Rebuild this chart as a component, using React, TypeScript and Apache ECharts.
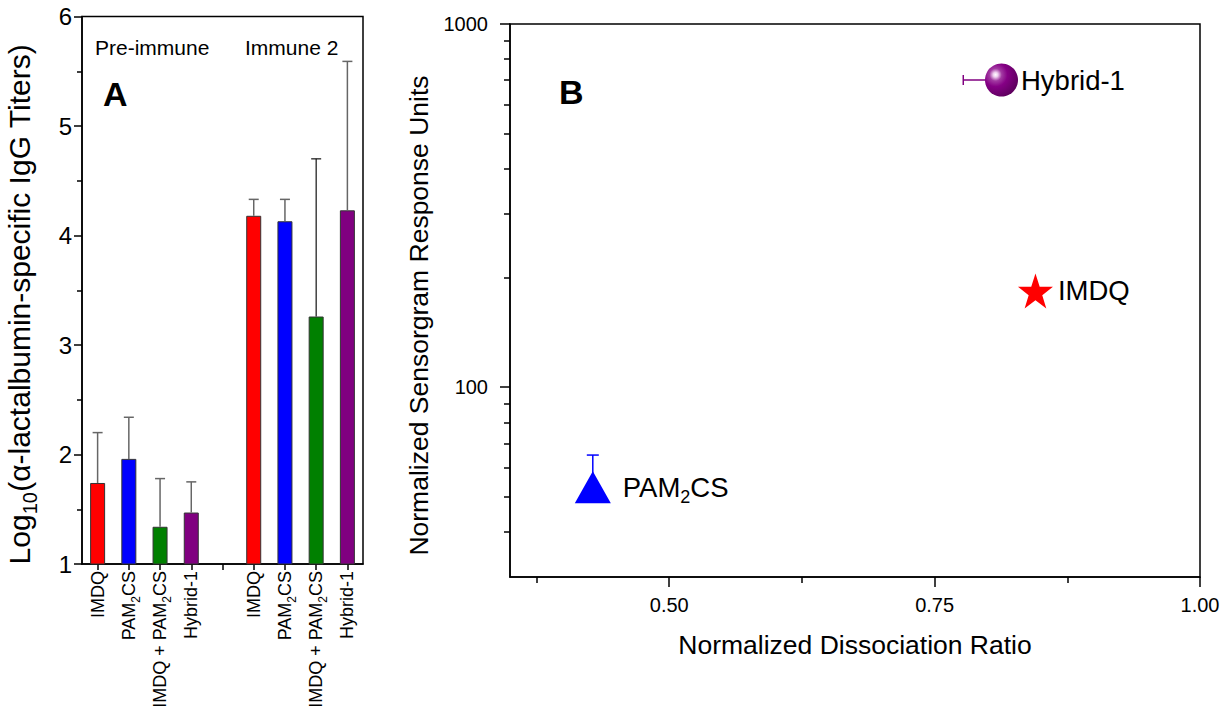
import React, { useEffect, useRef } from 'react';
import * as echarts from 'echarts';

// Panel A: log10 IgG titers per adjuvant group (pre-immune and immune 2)
const groupCategories = ['IMDQ', 'PAM2CS', 'IMDQ + PAM2CS', 'Hybrid-1', '', 'IMDQ', 'PAM2CS', 'IMDQ + PAM2CS', 'Hybrid-1'];
const titerMeans = [1.74, 1.96, 1.34, 1.47, null, 4.18, 4.13, 3.26, 4.23];
const titerErrorTops = [2.2, 2.34, 1.78, 1.75, null, 4.33, 4.33, 4.7, 5.59];
const titerMin = 1;
const titerMax = 6;

// Panel B: normalized dissociation ratio vs. normalized sensorgram response
const compounds = ['Hybrid-1', 'IMDQ', 'PAM2CS'];
const dissociationRatio = [0.813, 0.845, 0.428];
const responseUnits = [701, 184, 53];
const ratioErrorLow = [0.777, null, null];
const responseErrorHigh = [null, null, 65];
const ratioMajorTicks = [0.5, 0.75, 1.0];
const ratioMinorTicks = [0.375, 0.625, 0.875];
const responseMajorTicks = [100, 1000];
const responseMinorTicks = [40, 50, 60, 70, 80, 90, 200, 300, 400, 500, 600, 700, 800, 900];
const responseMin = 30;
const responseMax = 1000;

const FONT = '"Liberation Sans", Arial, Helvetica, sans-serif';
const barColors = ['#ff0000', '#0000ff', '#008000', '#800080', '#ffffff', '#ff0000', '#0000ff', '#008000', '#800080'];
const errorColors = ['#666666', '#666666', '#666666', '#666666', '#666666', '#666666', '#666666', '#111111', '#666666'];

const subRich = (size: number) => ({
  n: { fontSize: size, fontFamily: FONT, color: '#000', lineHeight: size + 4, verticalAlign: 'middle' },
  s: { fontSize: Math.round(size * 0.65), fontFamily: FONT, color: '#000', lineHeight: Math.round(size * 0.65), verticalAlign: 'bottom', padding: [0, 0, -Math.round(size * 0.12), 0] },
});

const withSubscript = (text: string) =>
  text.indexOf('PAM2') >= 0 ? '{n|' + text.replace('PAM2', 'PAM}{s|2}{n|') + '}' : '{n|' + text + '}';

const starPath =
  'path://M50,0 L61.8,35.1 L98.9,35.1 L69,56.9 L80.3,91.9 L50,70.3 L19.7,91.9 L31,56.9 L1.1,35.1 L38.2,35.1 Z';

export default function App() {
  const ref = useRef<HTMLDivElement>(null);

  useEffect(() => {
    if (!ref.current) return;
    const chart = echarts.init(ref.current, null, { renderer: 'svg' });

    const blackLine = { color: '#000', width: 1.5 };
    const tickLine = { color: '#000', width: 1.5 };

    const errorDataA = titerMeans
      .map((v, i) => (v == null ? null : [i, v, titerErrorTops[i]]))
      .filter((d) => d !== null);

    const sphere = new echarts.graphic.RadialGradient(0.32, 0.34, 0.72, [
      { offset: 0, color: '#ffffff' },
      { offset: 0.1, color: '#eecdee' },
      { offset: 0.26, color: '#a23aa2' },
      { offset: 0.5, color: '#850085' },
      { offset: 1, color: '#5e005e' },
    ]);

    const symbols = [
      { symbol: 'circle', symbolSize: 33, color: sphere, dist: 3 },
      { symbol: starPath, symbolSize: 35, color: '#ff0000', dist: 5 },
      { symbol: 'triangle', symbolSize: [36, 32], color: '#0000ff', dist: 12 },
    ];

    const scatterData = compounds.map((name, i) => ({
      name,
      value: [dissociationRatio[i], responseUnits[i]],
      symbol: symbols[i].symbol,
      symbolSize: symbols[i].symbolSize,
      itemStyle: { color: symbols[i].color, opacity: 1 },
      label: { distance: symbols[i].dist },
    }));

    const errorDataB = compounds.map((_, i) => [
      dissociationRatio[i],
      responseUnits[i],
      ratioErrorLow[i] == null ? NaN : ratioErrorLow[i],
      responseErrorHigh[i] == null ? NaN : responseErrorHigh[i],
      i,
    ]);
    const errorColorsB = ['#800080', '#ff0000', '#0000ff'];

    chart.setOption({
      animation: false,
      backgroundColor: '#ffffff',
      textStyle: { fontFamily: FONT },
      grid: [
        { left: 82, top: 16.5, width: 281, height: 547.5, show: true, borderColor: '#000', borderWidth: 1.5, backgroundColor: 'transparent' },
        { left: 510, top: 24, width: 690, height: 553, show: true, borderColor: '#000', borderWidth: 1.5, backgroundColor: 'transparent' },
      ],
      xAxis: [
        {
          type: 'category',
          gridIndex: 0,
          position: 'bottom',
          data: groupCategories,
          axisLine: { lineStyle: blackLine, onZero: false },
          axisTick: { show: true, alignWithLabel: true, length: 6, lineStyle: tickLine },
          axisLabel: {
            rotate: 90,
            margin: 7,
            interval: 0,
            formatter: (v: string) => (v ? withSubscript(v) : ''),
            rich: subRich(18),
          },
        },
        {
          type: 'value',
          gridIndex: 1,
          position: 'bottom',
          min: 0.35,
          max: 1.0,
          axisLine: { lineStyle: blackLine, onZero: false },
          axisTick: { show: true, length: 10, customValues: ratioMajorTicks, lineStyle: tickLine },
          axisLabel: {
            customValues: ratioMajorTicks,
            formatter: (v: number) => v.toFixed(2),
            fontSize: 20,
            color: '#000',
            margin: 18,
          },
          splitLine: { show: false },
          name: 'Normalized Dissociation Ratio',
          nameLocation: 'middle',
          nameGap: 54,
          nameTextStyle: { fontSize: 26.5, color: '#000', fontFamily: FONT },
        },
        {
          type: 'value',
          gridIndex: 1,
          position: 'bottom',
          min: 0.35,
          max: 1.0,
          axisLine: { show: false, onZero: false },
          axisTick: { show: true, length: 6, customValues: ratioMinorTicks, lineStyle: tickLine },
          axisLabel: { show: false },
          splitLine: { show: false },
        },
      ],
      yAxis: [
        {
          type: 'value',
          gridIndex: 0,
          position: 'left',
          min: titerMin,
          max: titerMax,
          interval: 1,
          axisLine: { show: true, lineStyle: blackLine, onZero: false },
          axisTick: { show: true, length: 8, lineStyle: tickLine },
          minorTick: { show: true, splitNumber: 2, length: 5, lineStyle: tickLine },
          axisLabel: { fontSize: 24, color: '#000', margin: 10 },
          splitLine: { show: false },
          name: '{n|Log}{s|10}{n|(α-lactalbumin-specific IgG Titers)}',
          nameLocation: 'middle',
          nameGap: 46,
          nameTextStyle: { rich: subRich(30), padding: [0, 28, 0, 0] },
        },
        {
          type: 'log',
          gridIndex: 1,
          position: 'left',
          logBase: 10,
          min: responseMin,
          max: responseMax,
          axisLine: { show: true, lineStyle: blackLine, onZero: false },
          axisTick: { show: true, length: 10, customValues: responseMajorTicks, lineStyle: tickLine },
          axisLabel: { customValues: responseMajorTicks, formatter: (v: number) => String(Math.round(v)), fontSize: 20, color: '#000', margin: 22 },
          splitLine: { show: false },
          name: 'Normalized Sensorgram Response Units',
          nameLocation: 'middle',
          nameGap: 76,
          nameTextStyle: { fontSize: 26.5, color: '#000', fontFamily: FONT, padding: [0, 30, 0, 0] },
        },
        {
          type: 'log',
          gridIndex: 1,
          position: 'left',
          logBase: 10,
          min: responseMin,
          max: responseMax,
          axisLine: { show: false, onZero: false },
          axisTick: { show: true, length: 6, customValues: responseMinorTicks, lineStyle: tickLine },
          axisLabel: { show: false },
          splitLine: { show: false },
        },
      ],
      series: [
        {
          type: 'bar',
          xAxisIndex: 0,
          yAxisIndex: 0,
          barWidth: 15,
          clip: true,
          data: titerMeans.map((v, i) => ({
            value: v == null ? '-' : v,
            itemStyle: { color: barColors[i], borderColor: '#333', borderWidth: 1 },
          })),
          z: 2,
        },
        {
          type: 'custom',
          xAxisIndex: 0,
          yAxisIndex: 0,
          z: 3,
          data: errorDataA,
          renderItem: (params: any, api: any) => {
            const idx = api.value(0);
            const p0 = api.coord([idx, api.value(1)]);
            const p1 = api.coord([idx, api.value(2)]);
            const stroke = errorColors[idx];
            const lw = idx === 7 ? 1.2 : 1.5;
            return {
              type: 'group',
              children: [
                { type: 'line', shape: { x1: p0[0], y1: p0[1], x2: p1[0], y2: p1[1] }, style: { stroke, lineWidth: lw } },
                { type: 'line', shape: { x1: p1[0] - 5, y1: p1[1], x2: p1[0] + 5, y2: p1[1] }, style: { stroke, lineWidth: lw } },
              ],
            };
          },
        },
        {
          type: 'custom',
          xAxisIndex: 1,
          yAxisIndex: 1,
          z: 3,
          data: errorDataB,
          renderItem: (params: any, api: any) => {
            const x = api.value(0);
            const y = api.value(1);
            const xl = api.value(2);
            const yh = api.value(3);
            const stroke = errorColorsB[api.value(4)];
            const children: any[] = [];
            const c = api.coord([x, y]);
            if (!isNaN(xl)) {
              const e = api.coord([xl, y]);
              children.push({ type: 'line', shape: { x1: c[0], y1: c[1], x2: e[0], y2: e[1] }, style: { stroke, lineWidth: 1.5 } });
              children.push({ type: 'line', shape: { x1: e[0], y1: e[1] - 5, x2: e[0], y2: e[1] + 5 }, style: { stroke, lineWidth: 1.5 } });
            }
            if (!isNaN(yh)) {
              const e = api.coord([x, yh]);
              children.push({ type: 'line', shape: { x1: c[0], y1: c[1], x2: e[0], y2: e[1] }, style: { stroke, lineWidth: 1.5 } });
              children.push({ type: 'line', shape: { x1: e[0] - 6, y1: e[1], x2: e[0] + 6, y2: e[1] }, style: { stroke, lineWidth: 1.5 } });
            }
            return { type: 'group', children };
          },
        },
        {
          type: 'scatter',
          xAxisIndex: 1,
          yAxisIndex: 1,
          z: 5,
          data: scatterData,
          label: {
            show: true,
            position: 'right',
            color: '#000',
            formatter: (p: any) => withSubscript(p.name),
            rich: subRich(27.5),
          },
        },
      ],
      graphic: [
        { type: 'text', left: 95, top: 37, style: { text: 'Pre-immune', font: `21px ${FONT}`, fill: '#000' } },
        { type: 'text', left: 245, top: 37, style: { text: 'Immune 2', font: `21px ${FONT}`, fill: '#000' } },
        { type: 'text', left: 103, top: 77, style: { text: 'A', font: `bold 34px ${FONT}`, fill: '#000' } },
        { type: 'text', left: 559, top: 75, style: { text: 'B', font: `bold 34px ${FONT}`, fill: '#000' } },
      ],
    });

    return () => chart.dispose();
  }, []);

  return (
    <div
      ref={ref}
      style={{ position: 'fixed', left: 0, top: 0, width: 1226, height: 717, background: '#fff' }}
    />
  );
}
